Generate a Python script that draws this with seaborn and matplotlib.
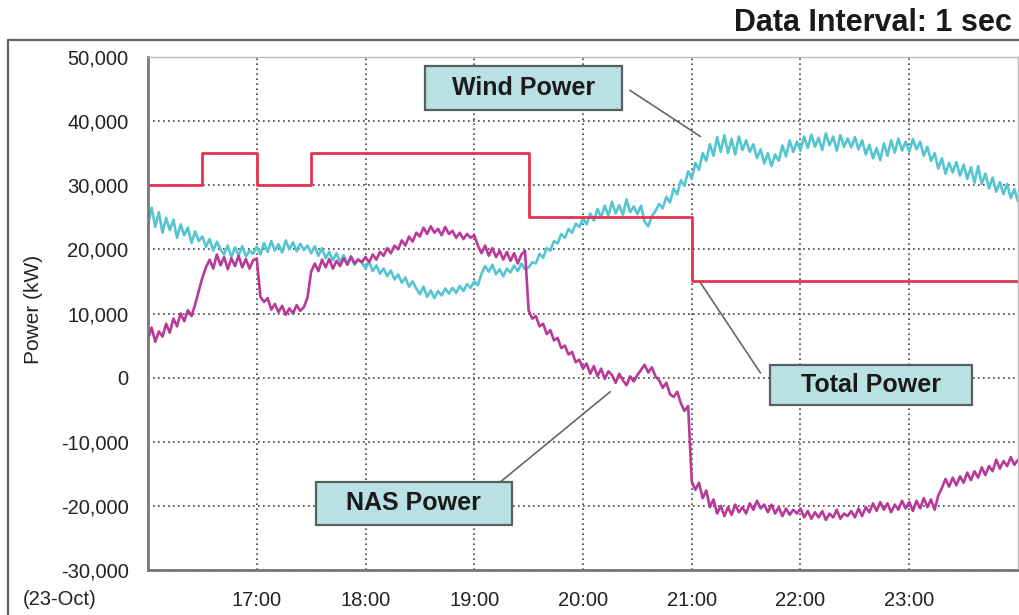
import numpy as np
import pandas as pd
import matplotlib
matplotlib.use("Agg")
import matplotlib.pyplot as plt
import seaborn as sns
from matplotlib.patches import Rectangle
from matplotlib.lines import Line2D
from matplotlib.ticker import FuncFormatter

# step of the read-off samples: 2 minutes, from 16:00 to 24:00
step_min = 2

# wind power, kW / 1000, one row = 30 minutes
wind_k = [
    24.0, 26.5, 23.5, 25.8, 22.6, 24.9, 23.0, 24.6, 21.8, 23.9, 22.2, 23.4, 21.0, 22.8, 21.3,
    22.0, 20.4, 21.6, 19.8, 21.2, 20.0, 19.2, 20.6, 18.8, 20.3, 19.0, 20.5, 18.9, 19.8, 19.3,
    20.4, 19.2, 21.0, 19.6, 21.3, 19.8, 20.8, 19.5, 21.4, 20.0, 21.1, 19.7, 20.9, 19.9, 20.6,
    19.4, 20.5, 19.0, 20.2, 18.6, 19.6, 18.3, 19.4, 18.0, 19.1, 17.8, 18.7, 17.6, 18.5, 17.9,
    17.0, 18.1, 16.6, 17.5, 16.2, 17.0, 15.8, 16.7, 15.3, 16.1, 14.8, 15.6, 14.2, 15.0, 13.9,
    13.0, 14.2, 12.6, 13.6, 12.4, 13.5, 12.8, 13.9, 13.1, 14.0, 13.2, 14.3, 13.5, 14.6, 14.0,
    15.0, 14.4, 16.2, 17.4, 16.5, 17.6, 16.1, 16.9, 15.8, 17.0, 16.4, 17.5, 16.6, 17.8, 16.9,
    17.2, 18.0, 17.8, 19.3, 18.7, 20.2, 19.8, 21.3, 20.9, 22.4, 21.8, 23.2, 22.6, 24.0, 23.5,
    24.8, 23.9, 25.6, 24.5, 26.3, 25.0, 26.8, 25.2, 27.4, 25.6, 26.9, 25.4, 27.8, 25.8, 26.7,
    25.5, 26.8, 24.3, 23.6, 25.2, 26.0, 27.1, 26.4, 28.2, 27.3, 29.5, 28.6, 30.8, 29.9, 32.2,
    31.0, 33.5, 32.4, 35.0, 33.8, 36.4, 34.6, 37.5, 35.2, 37.8, 35.0, 37.2, 34.8, 37.6, 35.5,
    37.0, 35.2, 36.4, 34.2, 35.6, 33.4, 35.0, 33.0, 34.8, 33.8, 36.2, 34.5, 37.0, 35.2, 36.8,
    35.4, 37.6, 35.8, 37.9, 36.0, 37.4, 35.5, 38.1, 36.2, 37.6, 35.4, 37.8, 36.0, 37.3, 35.9,
    37.5, 35.6, 37.0, 34.8, 36.3, 34.2, 35.8, 33.9, 36.5, 34.6, 37.0, 35.1, 37.3, 35.4, 36.8,
    35.2, 37.2, 35.6, 36.8, 34.6, 36.0, 33.8, 35.0, 32.6, 34.2, 31.8, 33.5, 32.0, 33.6, 31.5,
    33.2, 31.0, 32.8, 30.4, 33.0, 30.2, 31.8, 29.5, 31.2, 29.0, 30.5, 28.6, 30.2, 28.0, 29.4,
    27.5,
]

# NAS battery power, kW / 1000
nas_k = [
    6.0, 7.8, 5.6, 7.2, 6.4, 8.4, 7.0, 9.2, 8.0, 10.0, 8.8, 10.5, 9.6, 11.4, 13.5,
    15.6, 17.2, 18.4, 17.0, 19.2, 17.5, 18.8, 16.9, 18.6, 17.4, 19.0, 17.2, 18.5, 17.0, 18.3,
    18.6, 12.6, 11.8, 12.4, 10.6, 11.5, 10.2, 11.2, 9.8, 10.8, 10.0, 11.3, 10.4, 11.0, 12.5,
    16.5, 17.8, 16.6, 18.4, 17.2, 18.5, 17.0, 18.2, 17.4, 18.6, 17.6, 18.9, 17.8, 18.4, 18.0,
    18.8, 18.0, 19.2, 18.4, 19.6, 19.0, 20.2, 19.4, 20.6, 20.0, 21.4, 20.6, 22.0, 21.2, 22.6,
    22.0, 23.4, 22.4, 23.6, 22.6, 23.2, 22.2, 23.5, 22.4, 22.9, 21.8, 22.6, 21.6, 22.4, 21.8,
    22.2, 20.6, 19.4, 20.6, 19.0, 20.2, 18.8, 19.8, 18.4, 19.6, 18.2, 19.4, 17.8, 19.2, 19.8,
    10.5, 9.2, 9.6, 8.0, 8.4, 6.8, 7.4, 5.8, 6.2, 4.6, 5.0, 3.6, 4.0, 2.4, 2.8,
    1.4, 2.2, 0.6, 1.8, 0.2, 1.4, -0.2, 1.0, 0.4, -0.8, 0.6, -0.4, -1.2, 0.2, -0.6,
    0.4, 1.2, 2.0, 0.8, 1.6, 0.2, -0.4, -1.6, -0.8, -2.6, -3.0, -2.2, -4.0, -5.2, -4.4,
    -16.2, -17.5, -16.4, -18.8, -17.6, -20.2, -19.0, -21.2, -20.0, -21.6, -20.2, -21.4, -19.8, -21.0, -20.2,
    -21.2, -19.6, -20.6, -19.2, -20.4, -19.8, -21.0, -19.8, -21.2, -20.2, -21.6, -20.4, -21.4, -20.6, -21.2,
    -20.4, -21.8, -20.8, -22.0, -21.0, -21.8, -20.8, -22.2, -21.2, -21.8, -20.6, -22.0, -21.2, -21.6, -20.8,
    -21.8, -20.4, -21.6, -20.2, -21.0, -19.6, -20.8, -19.4, -20.6, -19.6, -21.0, -19.8, -20.6, -19.2, -20.4,
    -19.4, -20.8, -19.2, -20.4, -18.8, -20.2, -19.0, -20.6, -18.4, -17.2, -15.8, -17.0, -15.6, -16.8, -15.4,
    -16.4, -14.8, -16.0, -14.6, -15.6, -14.0, -15.2, -13.8, -14.6, -12.8, -14.2, -13.0, -13.8, -12.4, -13.6,
    -12.8,
]

# total power schedule (hour, kW)
total_hours = [16.0, 16.5, 17.0, 17.5, 19.5, 21.0, 24.0]
total_kw = [30000, 35000, 30000, 35000, 25000, 15000, 15000]

tick_hours = [17, 18, 19, 20, 21, 22, 23]
tick_labels = ["17:00", "18:00", "19:00", "20:00", "21:00", "22:00", "23:00"]
y_ticks = [-30000, -20000, -10000, 0, 10000, 20000, 30000, 40000, 50000]

hours = 16 + np.arange(len(wind_k)) * step_min / 60.0
df = pd.DataFrame({"hour": hours,
                   "wind": np.array(wind_k) * 1000,
                   "nas": np.array(nas_k) * 1000})

sns.set_style("white")
plt.rcParams["font.family"] = ["Liberation Sans", "DejaVu Sans"]

fig = plt.figure(figsize=(10.2, 6.15), dpi=100)
ax = fig.add_axes([148 / 1020, 45 / 615, 870 / 1020, 513 / 615])

wind_col = "#55c5d2"
nas_col = "#b8399a"
total_col = "#e5334f"

sns.lineplot(data=df, x="hour", y="wind", color=wind_col, lw=1.9, ax=ax)
sns.lineplot(data=df, x="hour", y="nas", color=nas_col, lw=1.9, ax=ax)
sns.lineplot(x=total_hours, y=total_kw, color=total_col, lw=2.0,
             drawstyle="steps-post", ax=ax)

ax.set_xlim(16, 24)
ax.set_ylim(-30000, 50000)
ax.set_xticks(tick_hours)
ax.set_xticklabels(tick_labels)
ax.set_yticks(y_ticks)
ax.yaxis.set_major_formatter(FuncFormatter(lambda v, p: f"{int(v):,}"))
ax.tick_params(axis="both", length=0, labelsize=14.5, colors="#222")
ax.tick_params(axis="x", pad=15)
ax.tick_params(axis="y", pad=14)
ax.set_xlabel("")
ax.set_ylabel("")
ax.grid(True, color="#444444", lw=1.2, linestyle=(0, (1, 2)))
for side in ["left", "bottom"]:
    ax.spines[side].set_color("#777777")
    ax.spines[side].set_linewidth(2.0)
for side in ["top", "right"]:
    ax.spines[side].set_color("#bbbbbb")
    ax.spines[side].set_linewidth(1.0)

# labelled boxes with leader lines (axes-fraction layout)
boxes = [
    ("Wind Power", (0.318, 0.897, 0.227, 0.085), (0.554, 0.935), (21.08, 37600)),
    ("Total Power", (0.715, 0.322, 0.232, 0.078), (0.704, 0.384), (21.08, 14800)),
    ("NAS Power", (0.193, 0.088, 0.225, 0.084), (0.401, 0.166), (20.25, -2200)),
]
for label, (bx, by, bw, bh), start, target in boxes:
    ax.annotate("", xy=target, xycoords="data", xytext=start, textcoords="axes fraction",
                arrowprops=dict(arrowstyle="-", color="#666666", lw=1.2,
                                shrinkA=0, shrinkB=0), zorder=5)
    ax.add_patch(Rectangle((bx, by), bw, bh, transform=ax.transAxes,
                           facecolor="#b9e0e3", edgecolor="#55605f", lw=1.6, zorder=6))
    ax.text(bx + bw / 2, by + bh / 2, label, transform=ax.transAxes, ha="center",
            va="center", fontsize=18, fontweight="bold", color="#1a1a1a", zorder=7)

# outer frame lines
fig.add_artist(Line2D([8 / 1020, 8 / 1020], [0, 575 / 615], color="#666666", lw=1.6))
fig.add_artist(Line2D([8 / 1020, 1], [575 / 615, 575 / 615], color="#666666", lw=1.6))

fig.text(0.992, 0.963, "Data Interval: 1 sec", ha="right", va="center",
         fontsize=22, fontweight="bold", color="#1a1a1a")
fig.text(0.033, 0.497, "Power (kW)", rotation=90, ha="center", va="center",
         fontsize=15, color="#222")
fig.text(0.022, 0.025, "(23-Oct)", ha="left", va="center", fontsize=14.5, color="#222")

fig.savefig("out.png", dpi=100)
